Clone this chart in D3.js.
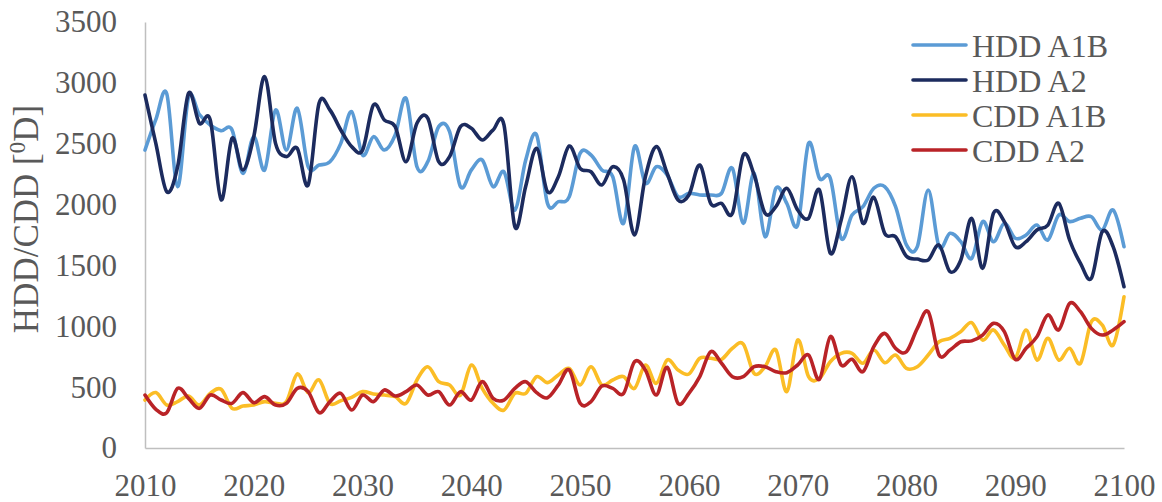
<!DOCTYPE html>
<html>
<head>
<meta charset="utf-8">
<script src="https://cdn.jsdelivr.net/npm/d3@7"></script>
<style>
  html, body { margin: 0; padding: 0; background: #fff; }
  svg { display: block; }
  text { font-family: "Liberation Serif", "Times New Roman", serif; fill: #595959; }
</style>
</head>
<body>
<svg id="chart" width="1162" height="502"></svg>
<script>
// Annual degree-day projections, 2010–2100
const years = d3.range(2010, 2101);

const hddA1B = [2448, 2700, 2910, 2147, 2880, 2740, 2654, 2607, 2614, 2257,
  2558, 2284, 2777, 2448, 2791, 2311, 2325, 2352, 2503, 2763,
  2407, 2558, 2448, 2572, 2873, 2311, 2352, 2640, 2599, 2147,
  2284, 2366, 2147, 2270, 1955, 2366, 2572, 2010, 2024, 2065,
  2421, 2407, 2284, 2229, 1846, 2476, 2175, 2311, 2243, 2065,
  2093, 2079, 2079, 2093, 2298, 1846, 2257, 1736, 2134, 2010,
  1832, 2503, 2216, 2216, 1723, 1914, 1983, 2134, 2147, 1983,
  1668, 1654, 2120, 1654, 1764, 1695, 1558, 1860, 1695, 1846,
  1723, 1750, 1832, 1709, 1914, 1860, 1887, 1900, 1791, 1955,
  1654];

const hddA2 = [2900, 2500, 2106, 2311, 2914, 2668, 2695, 2038, 2544, 2284,
  2558, 3051, 2503, 2394, 2462, 2161, 2832, 2777, 2613, 2476,
  2448, 2818, 2695, 2640, 2352, 2668, 2709, 2352, 2394, 2640,
  2627, 2531, 2613, 2654, 1818, 2150, 2462, 2106, 2229, 2481,
  2298, 2270, 2161, 2311, 2202, 1750, 2229, 2476, 2257, 2038,
  2079, 2325, 2010, 2010, 1928, 2407, 2243, 1928, 1983, 2134,
  1955, 1887, 2120, 1600, 1873, 2229, 1846, 2060, 1764, 1736,
  1575, 1552, 1545, 1668, 1449, 1545, 1887, 1476, 1928, 1860,
  1654, 1695, 1791, 1832, 2010, 1709, 1517, 1394, 1777, 1654,
  1325];

const cddA1B = [394, 455, 353, 381, 427, 353, 449, 482, 326, 345,
  353, 381, 367, 381, 608, 455, 559, 367, 389, 416,
  463, 444, 435, 422, 367, 559, 668, 545, 518, 435,
  682, 490, 367, 312, 449, 449, 586, 537, 600, 654,
  518, 668, 518, 559, 586, 490, 682, 531, 723, 641,
  608, 737, 737, 729, 819, 854, 613, 668, 805, 463,
  887, 586, 572, 709, 778, 778, 696, 805, 701, 764,
  654, 668, 764, 873, 901, 956, 1030, 887, 970, 846,
  737, 970, 723, 901, 723, 819, 696, 1038, 1011, 846,
  1243];

const cddA2 = [435, 318, 290, 490, 408, 326, 435, 394, 367, 455,
  372, 422, 353, 367, 490, 463, 290, 381, 449, 312,
  435, 381, 477, 427, 463, 518, 435, 463, 353, 463,
  394, 545, 408, 394, 490, 545, 455, 413, 518, 641,
  367, 381, 509, 490, 449, 709, 641, 435, 663, 367,
  449, 586, 791, 696, 586, 586, 668, 668, 627, 619,
  682, 764, 564, 915, 682, 729, 627, 832, 942, 819,
  791, 983, 1120, 764, 805, 873, 880, 928, 1024, 956,
  729, 819, 915, 1093, 970, 1189, 1120, 983, 928, 970,
  1038];

const seriesNames = ["HDD A1B", "HDD A2", "CDD A1B", "CDD A2"];
const seriesColors = ["#5B9BD5", "#1C2B5E", "#FBBD26", "#B92327"];
const seriesValues = [hddA1B, hddA2, cddA1B, cddA2];

const xTicks = d3.range(2010, 2101, 10);
const yTicks = d3.range(0, 3501, 500);

const svg = d3.select("#chart");
const margin = { left: 145, right: 38, top: 22, bottom: 54 };
const W = 1162, H = 502;

const x = d3.scaleLinear().domain([2010, 2100]).range([margin.left, W - margin.right]);
const y = d3.scaleLinear().domain([0, 3500]).range([H - margin.bottom, margin.top]);

// Axes
const fontSize = 31;
const yAxis = svg.append("g")
  .attr("transform", `translate(${margin.left},0)`)
  .call(d3.axisLeft(y).tickValues(yTicks).tickFormat(d3.format("d")).tickSize(0).tickPadding(28));
const xAxis = svg.append("g")
  .attr("transform", `translate(0,${H - margin.bottom})`)
  .call(d3.axisBottom(x).tickValues(xTicks).tickFormat(d3.format("d")).tickSize(0).tickPadding(26));

[xAxis, yAxis].forEach(g => {
  g.select(".domain").attr("stroke", "#BFBFBF").attr("stroke-width", 1.5);
  g.selectAll("text")
    .attr("font-family", '"Liberation Serif", "Times New Roman", serif')
    .attr("font-size", fontSize)
    .attr("fill", "#595959");
});

// Y-axis title
const title = svg.append("text")
  .attr("transform", `translate(38,219) rotate(-90)`)
  .attr("text-anchor", "middle")
  .attr("font-size", 35);
title.append("tspan").text("HDD/CDD [");
title.append("tspan").attr("font-size", 23).attr("dy", -13).text("0");
title.append("tspan").attr("dy", 13).text("D]");

// Smoothed lines
const line = d3.line()
  .x((d, i) => x(years[i]))
  .y(d => y(d))
  .curve(d3.curveCardinal.tension(0));

svg.append("g").selectAll("path")
  .data(seriesValues)
  .join("path")
  .attr("d", d => line(d))
  .attr("fill", "none")
  .attr("stroke", (d, i) => seriesColors[i])
  .attr("stroke-width", 3.6)
  .attr("stroke-linejoin", "round")
  .attr("stroke-linecap", "round");

// Legend
const legend = svg.append("g").attr("transform", "translate(913,45)");
const rows = legend.selectAll("g")
  .data(seriesNames)
  .join("g")
  .attr("transform", (d, i) => `translate(0,${i * 35})`);
rows.append("line")
  .attr("x1", 0).attr("x2", 53)
  .attr("y1", 0).attr("y2", 0)
  .attr("stroke", (d, i) => seriesColors[i])
  .attr("stroke-width", 3.6)
  .attr("stroke-linecap", "round");
rows.append("text")
  .attr("x", 59)
  .attr("y", 11.5)
  .attr("font-size", 32)
  .text(d => d);
</script>
</body>
</html>
